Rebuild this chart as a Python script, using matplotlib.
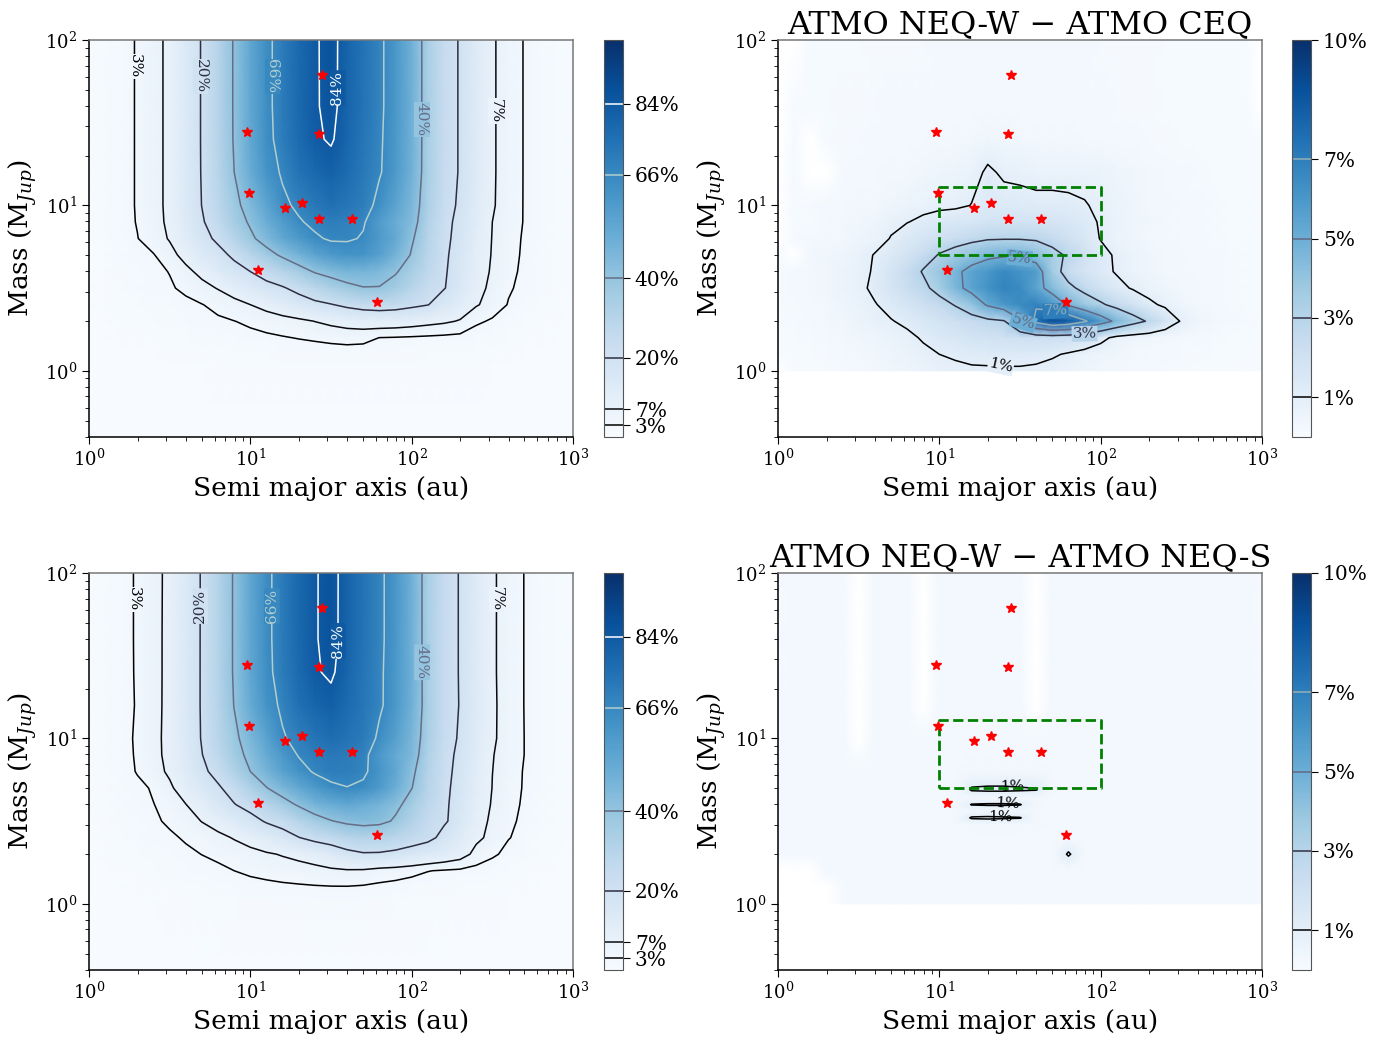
import numpy as np
import matplotlib
matplotlib.use("Agg")
import matplotlib.pyplot as plt

plt.rcParams['font.family'] = ['DejaVu Serif']
plt.rcParams['mathtext.fontset'] = 'dejavuserif'

nan = np.nan

# ---------------- data ----------------
# log10 of semi-major axis (au) grid columns
log_sma = [0.0, 0.1, 0.2, 0.3, 0.4, 0.5, 0.6, 0.7, 0.8, 0.9, 1.0, 1.1, 1.2, 1.3, 1.4, 1.5,
           1.6, 1.7, 1.8, 1.9, 2.0, 2.1, 2.2, 2.3, 2.4, 2.5, 2.6, 2.7, 2.8, 2.9, 3.0]
# log10 of mass (M_Jup) grid rows
log_mass = [2.0, 1.6, 1.4, 1.2, 1.0, 0.9, 0.8, 0.7, 0.6, 0.5, 0.4, 0.3, 0.2, 0.1, 0.0, -0.4]

# detection probability (%) , ATMO CEQ (top-left)
prob_ceq = [
    [0.3, 0.8, 1.8, 3.3, 5.5, 8.2, 13.5, 20.7, 30, 41.1, 53, 63.5, 71, 78, 83.2, 86.5, 80, 74, 68, 60, 49, 34, 24.5, 19.2, 12.5, 7.6, 4.6, 2.8, 1.6, 0.9, 0.5],
    [0.3, 0.8, 1.8, 3.3, 5.5, 8.2, 13.5, 20.7, 30, 41.1, 53, 63.5, 71, 78, 83.2, 86.3, 80, 74, 68, 60, 49, 34, 24.5, 19.2, 12.5, 7.6, 4.6, 2.8, 1.6, 0.9, 0.5],
    [0.3, 0.8, 1.8, 3.3, 5.5, 8.2, 13.5, 20.7, 30, 41, 52.5, 63, 70.5, 77, 82.8, 85, 79, 73, 67.5, 59.5, 49, 34, 24.5, 19.2, 12.5, 7.6, 4.6, 2.8, 1.6, 0.9, 0.5],
    [0.3, 0.8, 1.8, 3.3, 5.5, 8.2, 13.5, 20.6, 29.5, 40, 51, 61, 67.5, 74, 78.5, 81, 77, 72, 67, 59, 48.5, 34, 24.5, 19.2, 12.5, 7.6, 4.6, 2.8, 1.6, 0.9, 0.5],
    [0.3, 0.8, 1.8, 3.3, 5.5, 8.2, 13.3, 20.2, 28, 37, 45, 54, 64, 68, 72, 75, 73, 70, 63, 55, 46, 33, 23.5, 18.5, 12, 7.5, 4.5, 2.8, 1.6, 0.9, 0.5],
    [0.3, 0.8, 1.8, 3.2, 5.4, 8, 12.5, 19, 26, 35, 41.5, 50, 58, 65, 68.5, 70, 69, 67, 58, 51, 44.5, 31.5, 22.5, 17.5, 11.5, 7, 4.4, 2.8, 1.6, 0.9, 0.5],
    [0.3, 0.8, 1.7, 2.9, 5.0, 7.4, 11.5, 17, 22, 30, 38, 45, 53, 59, 64.5, 67.5, 67.2, 65.2, 59, 52, 41.5, 30, 22, 17, 11, 6.8, 4.2, 2.6, 1.5, 0.9, 0.5],
    [0.3, 0.7, 1.4, 2.0, 2.8, 5.5, 8.8, 13, 17, 22, 29, 36, 42, 48, 54, 59, 61.5, 61, 56, 48, 39, 29, 21.5, 16, 10.5, 6.6, 4.0, 2.5, 1.4, 0.8, 0.5],
    [0.3, 0.6, 1.2, 1.7, 2.4, 3.1, 5.8, 8.5, 12.5, 16.5, 20, 25, 30, 35.5, 41, 44.5, 47, 47, 45, 41, 34, 27, 21, 15.5, 10, 6.2, 3.8, 2.3, 1.3, 0.8, 0.4],
    [0.25, 0.5, 1.0, 1.4, 2.0, 2.7, 3.6, 5.5, 7.3, 10, 13, 16.5, 19, 23.5, 28.5, 33, 37, 39.5, 39.5, 36, 29.5, 24, 20.5, 14.5, 9, 5.5, 3.4, 2.0, 1.2, 0.7, 0.4],
    [0.2, 0.4, 0.8, 1.1, 1.5, 1.9, 2.4, 2.9, 4.0, 5.3, 7, 9, 11.5, 14.5, 17.5, 19.5, 22.5, 25, 26, 25, 22.5, 20.3, 15, 11, 7.5, 4.8, 2.8, 1.7, 1.0, 0.6, 0.3],
    [0.15, 0.3, 0.6, 0.8, 1.1, 1.4, 1.7, 2.1, 2.5, 2.95, 3.6, 4.3, 5.0, 5.8, 7.1, 8.3, 9.4, 10.2, 10.5, 10.2, 9.5, 8.6, 7.8, 6.6, 3.5, 2.6, 1.6, 1.0, 0.6, 0.4, 0.2],
    [0.1, 0.2, 0.4, 0.55, 0.7, 0.9, 1.1, 1.35, 1.6, 1.9, 2.2, 2.5, 2.8, 3.15, 3.5, 3.9, 4.2, 4.0, 2.95, 2.8, 2.6, 2.4, 2.2, 2.0, 1.7, 1.3, 0.9, 0.6, 0.4, 0.25, 0.15],
    [0.05, 0.1, 0.2, 0.3, 0.35, 0.45, 0.55, 0.65, 0.75, 0.85, 1.0, 1.1, 1.2, 1.3, 1.4, 1.5, 1.55, 1.5, 1.4, 1.3, 1.2, 1.1, 1.0, 0.9, 0.8, 0.65, 0.5, 0.35, 0.25, 0.15, 0.1],
    [0.03, 0.05, 0.1, 0.15, 0.2, 0.25, 0.3, 0.35, 0.4, 0.45, 0.5, 0.55, 0.6, 0.65, 0.7, 0.7, 0.75, 0.75, 0.7, 0.65, 0.6, 0.55, 0.5, 0.45, 0.4, 0.35, 0.25, 0.2, 0.15, 0.1, 0.05],
    [0.01, 0.01, 0.02, 0.03, 0.04, 0.05, 0.06, 0.07, 0.08, 0.09, 0.1, 0.1, 0.1, 0.1, 0.1, 0.1, 0.1, 0.1, 0.1, 0.1, 0.1, 0.1, 0.1, 0.09, 0.08, 0.07, 0.06, 0.05, 0.04, 0.03, 0.02],
]

# difference ATMO NEQ-W - ATMO CEQ (%) (top-right), nan = no data (white)
diff_neqw_ceq = [
    [nan, nan, 0.1, 0.1, 0.1, 0.1, 0.15, 0.15, 0.15, 0.15, 0.2, 0.2, 0.2, 0.2, 0.2, 0.2, 0.2, 0.2, 0.2, 0.2, 0.15, 0.15, 0.15, 0.15, 0.1, 0.1, 0.1, 0.1, 0.1, 0.05, nan],
    [nan, 0.05, 0.1, 0.1, 0.15, 0.15, 0.15, 0.2, 0.2, 0.2, 0.2, 0.2, 0.25, 0.25, 0.25, 0.25, 0.25, 0.2, 0.2, 0.2, 0.2, 0.15, 0.15, 0.15, 0.1, 0.1, 0.1, 0.1, 0.1, 0.05, nan],
    [nan, 0.05, nan, 0.1, 0.15, 0.15, 0.2, 0.2, 0.25, 0.25, 0.3, 0.3, 0.35, 0.4, 0.4, 0.35, 0.3, 0.3, 0.3, 0.25, 0.25, 0.2, 0.2, 0.15, 0.15, 0.1, 0.1, 0.1, 0.1, 0.05, 0.05],
    [nan, 0.1, nan, nan, 0.15, 0.2, 0.25, 0.3, 0.35, 0.4, 0.5, 0.55, 0.7, 1.15, 0.85, 0.8, 0.7, 0.7, 0.7, 0.7, 0.6, 0.5, 0.4, 0.3, 0.25, 0.2, 0.15, 0.1, 0.1, 0.05, 0.05],
    [nan, 0.1, 0.15, 0.2, 0.25, 0.3, 0.35, 0.45, 0.55, 0.7, 0.8, 0.85, 1.02, 1.3, 1.3, 1.25, 1.2, 1.2, 1.15, 1.05, 0.85, 0.6, 0.45, 0.35, 0.3, 0.25, 0.2, 0.15, 0.1, 0.1, 0.05],
    [nan, 0.1, 0.1, 0.2, 0.3, 0.4, 0.5, 0.75, 0.97, 1.2, 1.4, 1.5, 1.6, 1.8, 1.9, 1.9, 1.8, 1.7, 1.55, 1.3, 0.9, 0.65, 0.5, 0.4, 0.3, 0.25, 0.2, 0.15, 0.1, 0.1, 0.05],
    [nan, 0.15, 0.2, 0.3, 0.35, 0.45, 0.6, 1.05, 1.4, 1.7, 2.0, 2.3, 2.6, 2.85, 2.9, 2.9, 2.8, 2.5, 2.0, 1.5, 0.95, 0.6, 0.45, 0.35, 0.3, 0.25, 0.2, 0.15, 0.1, 0.1, 0.05],
    [0.1, nan, 0.3, 0.4, 0.5, 0.7, 1.05, 1.4, 1.8, 2.4, 3.1, 3.6, 4.1, 4.6, 4.8, 4.7, 4.2, 3.4, 2.8, 2.0, 1.3, 0.85, 0.6, 0.45, 0.35, 0.3, 0.25, 0.2, 0.15, 0.1, 0.05],
    [0.1, 0.2, 0.3, 0.4, 0.55, 0.75, 1.1, 1.7, 2.4, 3.1, 3.9, 4.7, 5.5, 6.0, 6.6, 6.2, 5.8, 3.6, 2.4, 1.7, 1.3, 0.9, 0.6, 0.45, 0.35, 0.3, 0.25, 0.2, 0.15, 0.1, 0.05],
    [0.1, 0.2, 0.3, 0.4, 0.55, 0.8, 1.2, 1.7, 2.3, 2.7, 3.5, 4.6, 5.5, 6.2, 6.8, 6.5, 5.5, 4.4, 3.3, 2.6, 1.9, 1.3, 0.9, 0.6, 0.45, 0.35, 0.3, 0.2, 0.15, 0.1, 0.05],
    [0.1, 0.15, 0.25, 0.35, 0.5, 0.65, 0.95, 1.3, 1.7, 2.1, 2.5, 3.1, 4.0, 5.2, 6.0, 6.5, 6.8, 6.0, 4.8, 3.8, 3.2, 2.5, 1.9, 1.2, 0.8, 0.5, 0.35, 0.25, 0.15, 0.1, 0.05],
    [0.1, 0.15, 0.2, 0.3, 0.4, 0.55, 0.75, 0.95, 1.2, 1.5, 1.8, 2.1, 2.4, 2.7, 2.9, 4.8, 7.5, 8.8, 8.3, 7.2, 5.8, 4.6, 3.6, 2.8, 1.8, 0.9, 0.5, 0.35, 0.2, 0.15, 0.1],
    [0.05, 0.1, 0.15, 0.2, 0.3, 0.4, 0.5, 0.65, 0.8, 1.1, 1.4, 1.6, 1.8, 1.9, 2.0, 2.1, 2.2, 2.2, 2.1, 1.8, 1.3, 0.7, 0.5, 0.4, 0.3, 0.25, 0.2, 0.15, 0.1, 0.1, 0.05],
    [0.05, 0.05, 0.1, 0.15, 0.2, 0.3, 0.4, 0.5, 0.6, 0.8, 1.0, 1.1, 1.2, 1.25, 1.3, 1.3, 1.25, 1.1, 0.9, 0.7, 0.5, 0.4, 0.3, 0.25, 0.2, 0.15, 0.15, 0.1, 0.1, 0.05, 0.05],
    [nan, 0.05, 0.05, 0.1, 0.15, 0.2, 0.3, 0.4, 0.5, 0.6, 0.75, 0.85, 0.9, 0.9, 0.9, 0.9, 0.85, 0.75, 0.6, 0.5, 0.4, 0.3, 0.25, 0.2, 0.15, 0.15, 0.1, 0.1, 0.05, 0.05, 0.05],
    [nan, nan, nan, nan, nan, nan, nan, nan, nan, nan, nan, nan, nan, nan, nan, nan, nan, nan, nan, nan, nan, nan, nan, nan, nan, nan, nan, nan, nan, nan, nan],
]

# difference ATMO NEQ-W - ATMO NEQ-S (%) (bottom-right), own mass rows
log_mass_s = [2.0, 1.6, 1.2, 1.0, 0.8, 0.69, 0.64, 0.60, 0.56, 0.52, 0.48, 0.4, 0.3, 0.2, 0.1, 0.0]
diff_neqw_neqs = [
    [0.15, 0.2, 0.2, 0.2, 0.2, nan, 0.2, 0.2, 0.2, nan, 0.2, 0.2, 0.2, 0.2, 0.2, 0.2, nan, 0.2, 0.2, 0.2, 0.2, 0.2, 0.2, 0.2, 0.2, 0.2, 0.2, 0.2, 0.2, 0.2, 0.15],
    [0.15, 0.2, 0.2, 0.2, 0.2, nan, 0.2, 0.2, 0.2, nan, 0.2, 0.2, 0.2, 0.2, 0.2, 0.2, nan, 0.2, 0.2, 0.2, 0.2, 0.2, 0.2, 0.2, 0.2, 0.2, 0.2, 0.2, 0.2, 0.2, 0.15],
    [0.2, 0.2, 0.2, 0.2, 0.2, nan, 0.2, 0.2, 0.2, nan, 0.2, 0.2, 0.2, 0.2, 0.2, 0.2, nan, 0.2, 0.2, 0.2, 0.2, 0.2, 0.2, 0.2, 0.2, 0.2, 0.2, 0.2, 0.2, 0.2, 0.2],
    [0.2, 0.2, 0.2, 0.2, 0.2, nan, 0.25, 0.25, 0.25, 0.25, 0.25, 0.25, 0.25, 0.25, 0.25, 0.25, 0.25, 0.25, 0.25, 0.25, 0.2, 0.2, 0.2, 0.2, 0.2, 0.2, 0.2, 0.2, 0.2, 0.2, 0.2],
    [0.2, 0.2, 0.25, 0.25, 0.25, 0.25, 0.25, 0.25, 0.25, 0.25, 0.25, 0.25, 0.3, 0.3, 0.3, 0.3, 0.3, 0.25, 0.25, 0.25, 0.2, 0.2, 0.2, 0.2, 0.2, 0.2, 0.2, 0.2, 0.2, 0.2, 0.2],
    [0.2, 0.2, 0.25, 0.25, 0.25, 0.25, 0.25, 0.25, 0.25, 0.25, 0.25, 0.3, 1.1, 1.15, 1.15, 1.1, 1.05, 0.3, 0.25, 0.25, 0.2, 0.2, 0.2, 0.2, 0.2, 0.2, 0.2, 0.2, 0.2, 0.2, 0.2],
    [0.2, 0.2, 0.25, 0.25, 0.25, 0.25, 0.25, 0.25, 0.25, 0.25, 0.25, 0.3, 0.35, 0.35, 0.35, 0.35, 0.3, 0.25, 0.25, 0.25, 0.2, 0.2, 0.2, 0.2, 0.2, 0.2, 0.2, 0.2, 0.2, 0.2, 0.2],
    [0.2, 0.2, 0.25, 0.25, 0.25, 0.25, 0.25, 0.25, 0.25, 0.25, 0.25, 0.3, 1.05, 1.1, 1.1, 1.05, 0.3, 0.25, 0.25, 0.25, 0.2, 0.2, 0.2, 0.2, 0.2, 0.2, 0.2, 0.2, 0.2, 0.2, 0.2],
    [0.2, 0.2, 0.25, 0.25, 0.25, 0.25, 0.25, 0.25, 0.25, 0.25, 0.25, 0.3, 0.35, 0.35, 0.35, 0.35, 0.3, 0.25, 0.25, 0.25, 0.2, 0.2, 0.2, 0.2, 0.2, 0.2, 0.2, 0.2, 0.2, 0.2, 0.2],
    [0.2, 0.2, 0.25, 0.25, 0.25, 0.25, 0.25, 0.25, 0.25, 0.25, 0.25, 0.3, 1.1, 1.15, 1.1, 1.05, 0.3, 0.25, 0.25, 0.25, 0.2, 0.2, 0.2, 0.2, 0.2, 0.2, 0.2, 0.2, 0.2, 0.2, 0.2],
    [0.2, 0.2, 0.25, 0.25, 0.25, 0.25, 0.25, 0.25, 0.25, 0.25, 0.25, 0.3, 0.35, 0.35, 0.35, 0.35, 0.3, 0.25, 0.25, 0.25, 0.2, 0.2, 0.2, 0.2, 0.2, 0.2, 0.2, 0.2, 0.2, 0.2, 0.2],
    [0.2, 0.2, 0.2, 0.2, 0.2, 0.2, 0.2, 0.2, 0.2, 0.2, 0.2, 0.2, 0.25, 0.25, 0.25, 0.25, 0.2, 0.2, 0.2, 0.2, 0.2, 0.2, 0.2, 0.2, 0.2, 0.2, 0.2, 0.2, 0.2, 0.2, 0.2],
    [0.2, 0.2, 0.2, 0.2, 0.2, 0.2, 0.2, 0.2, 0.2, 0.2, 0.2, 0.2, 0.2, 0.2, 0.2, 0.2, 0.2, 0.2, 1.12, 0.2, 0.2, 0.2, 0.2, 0.2, 0.2, 0.2, 0.2, 0.2, 0.2, 0.2, 0.2],
    [nan, nan, nan, 0.2, 0.2, 0.2, 0.2, 0.2, 0.2, 0.2, 0.2, 0.2, 0.2, 0.2, 0.2, 0.2, 0.2, 0.2, 0.2, 0.2, 0.2, 0.2, 0.2, 0.2, 0.2, 0.2, 0.2, 0.2, 0.2, 0.2, 0.2],
    [nan, nan, nan, nan, 0.15, 0.2, 0.2, 0.2, 0.2, 0.2, 0.2, 0.2, 0.2, 0.2, 0.2, 0.2, 0.2, 0.2, 0.2, 0.2, 0.2, 0.2, 0.2, 0.2, 0.2, 0.2, 0.2, 0.2, 0.2, 0.2, 0.2],
    [nan, nan, nan, nan, 0.15, 0.2, 0.2, 0.2, 0.2, 0.2, 0.2, 0.2, 0.2, 0.2, 0.2, 0.2, 0.2, 0.2, 0.2, 0.2, 0.2, 0.2, 0.2, 0.2, 0.2, 0.2, 0.2, 0.2, 0.2, 0.2, 0.2],
]

# known companions
planets_a = [28.0, 9.58, 26.8, 9.86, 16.3, 21.0, 26.8, 42.7, 11.1, 61.3]
planets_m = [61.5, 27.9, 27.0, 11.9, 9.6, 10.3, 8.3, 8.3, 4.07, 2.59]

# highlighted region
box_a = [10, 100]
box_m = [5, 13]

levels_prob = [3, 7, 20, 40, 66, 84]
levels_diff = [1, 3, 5, 7, 10]

# ---------------- arrays ----------------
P_ceq = np.array(prob_ceq, dtype=float)
D_ceq = np.array(diff_neqw_ceq, dtype=float)
P_neqw = P_ceq + np.nan_to_num(D_ceq)
D_neqs = np.array(diff_neqw_neqs, dtype=float)

A, M = np.meshgrid(10 ** np.array(log_sma), 10 ** np.array(log_mass))
As, Ms = np.meshgrid(10 ** np.array(log_sma), 10 ** np.array(log_mass_s))

cmap = plt.get_cmap('Blues').copy()
cmap.set_under('white')
cmap.set_bad('white')

W, H = 1390, 1037
fig = plt.figure(figsize=(W / 100, H / 100), dpi=100)


def px_axes(x0, y0, x1, y1):
    return fig.add_axes([x0 / W, 1 - y1 / H, (x1 - x0) / W, (y1 - y0) / H])


def draw(ax, cax, X, Y, Z, vmax, levels, label_pos, gap=True, title=None):
    # no-data cells are shown white (below colour range) in the smooth image
    Zimg = np.where(np.isnan(Z), -1.0, Z)
    mesh = ax.pcolormesh(X, Y, Zimg, cmap=cmap, vmin=0, vmax=vmax, shading='gouraud')
    Zm = np.ma.masked_invalid(Z)
    cs = ax.contour(X, Y, Zm, levels=levels, cmap='bone', linewidths=1.1)
    pts = [(10 ** x, 10 ** y) for x, y in label_pos]
    texts = ax.clabel(cs, fmt=lambda v: f'{v:g}%', manual=pts, inline=False, fontsize=11)
    if gap:
        for t in texts:
            lev = float(t.get_text().rstrip('%'))
            t.set_bbox(dict(facecolor=cmap(lev / vmax), edgecolor='none', pad=0.6))
    ax.plot(planets_a, planets_m, ls='none', marker='*', color='red', ms=7, zorder=5)
    ax.set_xscale('log')
    ax.set_yscale('log')
    ax.set_xlim(1, 1000)
    ax.set_ylim(10 ** -0.4, 100)
    ax.set_xlabel('Semi major axis (au)', fontsize=19)
    ax.set_ylabel('Mass (M$_{Jup}$)', fontsize=19)
    ax.tick_params(which='both', direction='out', labelsize=13, top=False, right=False)
    ax.tick_params(which='major', length=5)
    ax.tick_params(which='minor', length=3)
    for s in ['top', 'right']:
        ax.spines[s].set_color('#777777')
    for s in ax.spines.values():
        s.set_linewidth(1.1)
    if title:
        ax.set_title(title, fontsize=23, pad=4)
    cb = fig.colorbar(mesh, cax=cax, ticks=levels)
    cb.add_lines(cs)
    cb.ax.set_yticklabels([f'{l}%' for l in levels])
    cb.ax.tick_params(labelsize=14.5, length=5)
    cb.outline.set_edgecolor('#555555')
    return ax


ax_tl = px_axes(89, 40, 573, 437)
cax_tl = px_axes(604, 40, 623, 437)
ax_tr = px_axes(778, 40, 1262, 437)
cax_tr = px_axes(1292, 40, 1311, 437)
ax_bl = px_axes(89, 573, 573, 970)
cax_bl = px_axes(604, 573, 623, 970)
ax_br = px_axes(778, 573, 1262, 970)
cax_br = px_axes(1292, 573, 1311, 970)

draw(ax_tl, cax_tl, A, M, P_ceq, 100, levels_prob,
     [(0.285, 1.84), (0.69, 1.78), (1.133, 1.78), (1.533, 1.71), (2.06, 1.52), (2.52, 1.57)])
draw(ax_bl, cax_bl, A, M, P_neqw, 100, levels_prob,
     [(0.285, 1.84), (0.69, 1.80), (1.133, 1.80), (1.54, 1.59), (2.06, 1.46), (2.52, 1.84)])
draw(ax_tr, cax_tr, A[:-1], M[:-1], D_ceq[:-1], 10, levels_diff,
     [(1.38, 0.02), (1.9, 0.22), (1.52, 0.29), (1.72, 0.35), (1.5, 0.70)],
     title='ATMO NEQ-W \u2212 ATMO CEQ')
draw(ax_br, cax_br, As, Ms, D_neqs, 10, levels_diff,
     [(1.45, 0.70), (1.42, 0.61), (1.38, 0.53)], gap=False,
     title='ATMO NEQ-W \u2212 ATMO NEQ-S')

for ax in (ax_tr, ax_br):
    ax.plot([box_a[0], box_a[1], box_a[1], box_a[0], box_a[0]],
            [box_m[0], box_m[0], box_m[1], box_m[1], box_m[0]],
            ls='--', color='green', lw=2, zorder=4)

fig.savefig('out.png', dpi=100)
